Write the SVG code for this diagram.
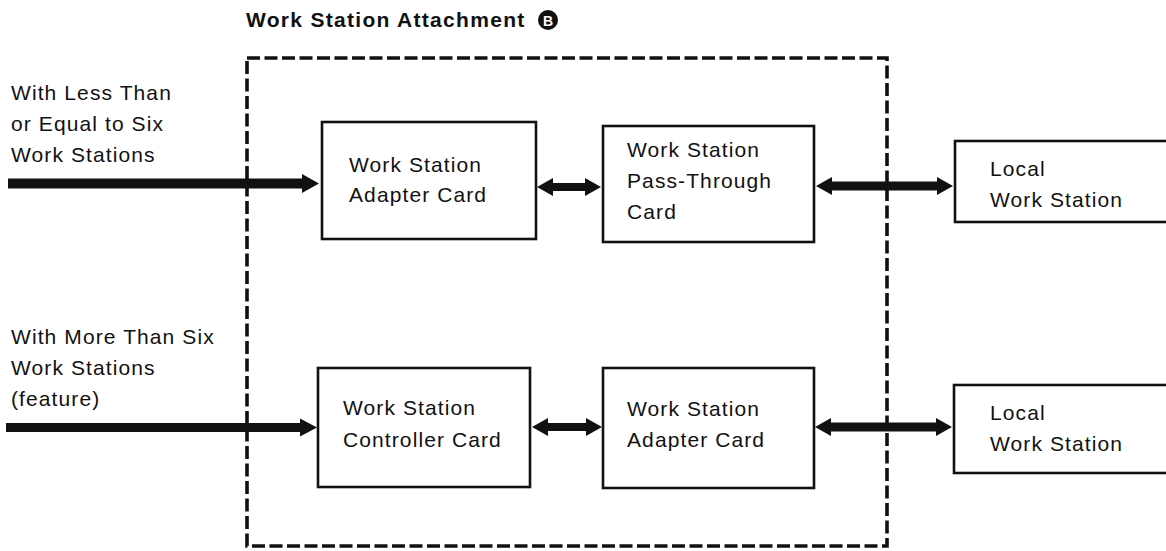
<svg xmlns="http://www.w3.org/2000/svg" width="1166" height="551" viewBox="0 0 1166 551">
<style>
text{font-family:"Liberation Sans",Arial,sans-serif;font-size:21px;letter-spacing:1.1px;fill:#111}
.title{font-weight:bold;letter-spacing:1.3px}
.box{fill:#fff;stroke:#111;stroke-width:2.6}
.arr{fill:#111}
.frame{fill:none;stroke:#111;stroke-width:3.6;stroke-dasharray:13 4.5}
</style>
<rect width="1166" height="551" fill="#fff"/>
<g id="title">
<text class="title" x="246" y="27">Work Station Attachment</text>
<circle cx="548" cy="20" r="10" fill="#111"/>
<text x="548" y="26" text-anchor="middle" style="font-size:14px;font-weight:bold;fill:#fff;letter-spacing:0">B</text>
</g>
<g id="frame"><rect class="frame" x="247" y="58" width="640" height="488"/></g>
<g id="label-less">
<text x="11" y="100">With Less Than</text>
<text x="11" y="131">or Equal to Six</text>
<text x="11" y="162">Work Stations</text>
</g>
<g id="label-more">
<text x="11" y="344">With More Than Six</text>
<text x="11" y="375">Work Stations</text>
<text x="11" y="406">(feature)</text>
</g>
<g id="connectors">
<polygon class="arr" points="8,178.5 302,178.5 302,174 319,183.5 302,193 302,188.5 8,188.5"/>
<polygon class="arr" points="6,423 300,423 300,418.5 317,427.5 300,436.5 300,432 6,432"/>
<polygon class="arr" points="537,187 553,178 553,183 585,183 585,178 601,187 585,196 585,191 553,191 553,196"/>
<polygon class="arr" points="816,186 832,177 832,181.5 937,181.5 937,177 953,186 937,195 937,190.5 832,190.5 832,195"/>
<polygon class="arr" points="532,427 548,418 548,423 586,423 586,418 602,427 586,436 586,431 548,431 548,436"/>
<polygon class="arr" points="815,427 831,418 831,422.5 936,422.5 936,418 952,427 936,436 936,431.5 831,431.5 831,436"/>
</g>
<g id="adapter-top">
<rect class="box" x="322" y="122" width="214" height="117"/>
<text x="349" y="172">Work Station</text>
<text x="349" y="202">Adapter Card</text>
</g>
<g id="passthrough">
<rect class="box" x="603" y="126" width="211" height="116"/>
<text x="627" y="157">Work Station</text>
<text x="627" y="188">Pass-Through</text>
<text x="627" y="219">Card</text>
</g>
<g id="local-top">
<rect class="box" x="955" y="141" width="220" height="81"/>
<text x="990" y="176">Local</text>
<text x="990" y="207">Work Station</text>
</g>
<g id="controller">
<rect class="box" x="318" y="368" width="212" height="119"/>
<text x="343" y="415">Work Station</text>
<text x="343" y="447">Controller Card</text>
</g>
<g id="adapter-bottom">
<rect class="box" x="603" y="368" width="211" height="120"/>
<text x="627" y="416">Work Station</text>
<text x="627" y="447">Adapter Card</text>
</g>
<g id="local-bottom">
<rect class="box" x="954" y="385" width="220" height="88"/>
<text x="990" y="420">Local</text>
<text x="990" y="451">Work Station</text>
</g>
</svg>
